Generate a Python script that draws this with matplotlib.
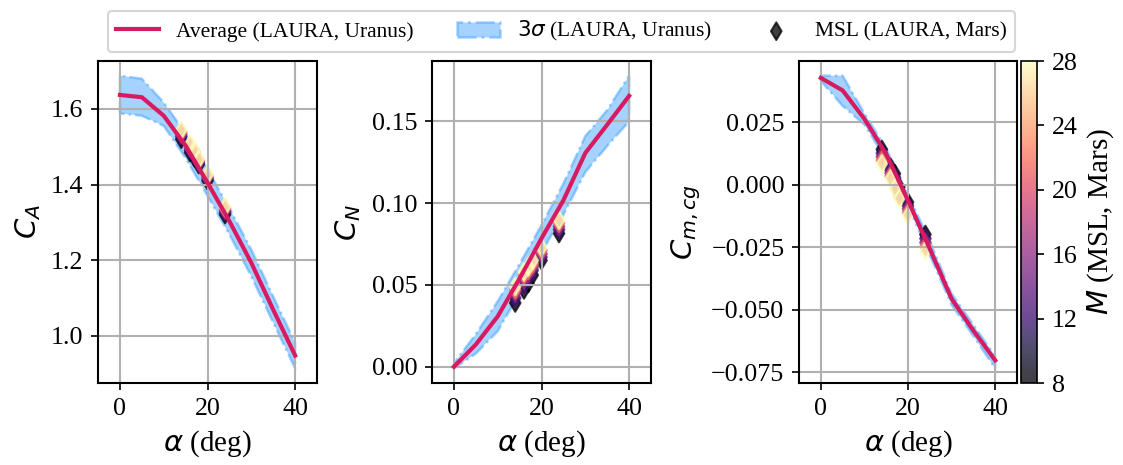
import numpy as np
import matplotlib
matplotlib.use('Agg')
import matplotlib.pyplot as plt

plt.rcParams['font.family'] = 'serif'
plt.rcParams['font.serif'] = ['Liberation Serif', 'DejaVu Serif']
plt.rcParams['mathtext.fontset'] = 'dejavusans'
plt.rcParams['font.size'] = 12.5

# LAURA Uranus database (average and 3 sigma band)
alpha = [0, 5, 10, 15, 20, 25, 30, 35, 40]

ca_avg = [1.637, 1.631, 1.582, 1.503, 1.405, 1.303, 1.193, 1.069, 0.948]
ca_hi = [1.688, 1.680, 1.617, 1.535, 1.440, 1.337, 1.228, 1.104, 0.982]
ca_lo = [1.588, 1.582, 1.555, 1.470, 1.370, 1.268, 1.157, 1.035, 0.914]

cn_avg = [0.000, 0.0136, 0.0308, 0.054, 0.0785, 0.1018, 0.1307, 0.148, 0.1656]
cn_hi = [0.002, 0.020, 0.040, 0.063, 0.0866, 0.112, 0.141, 0.157, 0.178]
cn_lo = [-0.001, 0.008, 0.0217, 0.045, 0.070, 0.093, 0.119, 0.135, 0.150]

cm_avg = [0.0427, 0.0377, 0.0263, 0.0123, -0.0063, -0.0256, -0.0456, -0.0583, -0.0702]
cm_hi = [0.0436, 0.0436, 0.0285, 0.0145, -0.0040, -0.0225, -0.0435, -0.0560, -0.0685]
cm_lo = [0.0415, 0.0315, 0.0240, 0.0100, -0.0085, -0.0282, -0.0480, -0.0605, -0.0734]

# MSL points (LAURA, Mars), one row per Mach number
msl_alpha = [14, 16, 17, 18, 20, 24]
msl_mach = [8, 12, 16, 22, 28]

msl_ca = [
    [1.520, 1.485, 1.471, 1.453, 1.410, 1.321],
    [1.527, 1.491, 1.477, 1.457, 1.415, 1.327],
    [1.533, 1.497, 1.482, 1.461, 1.419, 1.332],
    [1.539, 1.502, 1.487, 1.464, 1.423, 1.337],
    [1.544, 1.507, 1.491, 1.467, 1.426, 1.341],
]
msl_cn = [
    [0.039, 0.047, 0.051, 0.056, 0.065, 0.0815],
    [0.042, 0.050, 0.054, 0.059, 0.067, 0.0838],
    [0.045, 0.053, 0.057, 0.061, 0.069, 0.0858],
    [0.047, 0.056, 0.059, 0.063, 0.071, 0.0878],
    [0.049, 0.058, 0.061, 0.065, 0.073, 0.0896],
]
msl_cm = [
    [0.0141, 0.0070, 0.0044, -0.0010, -0.0070, -0.0199],
    [0.0126, 0.0058, 0.0029, -0.0022, -0.0084, -0.0215],
    [0.0112, 0.0046, 0.0014, -0.0034, -0.0097, -0.0231],
    [0.0098, 0.0035, 0.0000, -0.0045, -0.0110, -0.0247],
    [0.0084, 0.0024, -0.0016, -0.0056, -0.0123, -0.0263],
]

line_color = '#d81b60'
band_color = 'dodgerblue'

fig = plt.figure(figsize=(1123 / 150, 465 / 150), dpi=150)
ax1 = fig.add_axes([0.0873, 0.1763, 0.1950, 0.6925])
ax2 = fig.add_axes([0.3847, 0.1763, 0.1950, 0.6925])
ax3 = fig.add_axes([0.7115, 0.1763, 0.1941, 0.6925])
cax = fig.add_axes([0.9092, 0.1763, 0.0142, 0.6925])

panels = [
    (ax1, ca_avg, ca_lo, ca_hi, msl_ca, '$C_A$'),
    (ax2, cn_avg, cn_lo, cn_hi, msl_cn, '$C_N$'),
    (ax3, cm_avg, cm_lo, cm_hi, msl_cm, '$C_{m,cg}$'),
]

# flatten MSL points, low Mach first so high Mach ends up on top
pts_a = [a for m in msl_mach for a in msl_alpha]
pts_m = [m for m in msl_mach for a in msl_alpha]

for ax, avg, lo, hi, msl, lab in panels:
    ax.fill_between(alpha, lo, hi, color=band_color, alpha=0.4,
                    linestyle='-.', linewidth=1.2, label=r'$3\sigma$ (LAURA, Uranus)')
    ax.plot(alpha, avg, color=line_color, linewidth=2, label='Average (LAURA, Uranus)')
    sc = ax.scatter(pts_a, np.array(msl).ravel(), c=pts_m, cmap='magma',
                    vmin=8, vmax=28, marker='d', s=36, alpha=0.75,
                    label='MSL (LAURA, Mars)')
    ax.set_xlim(-5, 45)
    ax.set_xticks([0, 20, 40])
    ax.set_xlabel(r'$\alpha$ (deg)', fontsize=14)
    ax.set_ylabel(lab, fontsize=14)
    ax.grid(True, linewidth=1.0)
    for s in ax.spines.values():
        s.set_linewidth(1.0)

ax1.set_yticks([1.0, 1.2, 1.4, 1.6])
ax2.set_yticks([0.0, 0.05, 0.10, 0.15])
ax3.set_yticks([0.025, 0.0, -0.025, -0.05, -0.075])

cb = fig.colorbar(sc, cax=cax, ticks=[8, 12, 16, 20, 24, 28])
cb.set_label('$M$ (MSL, Mars)', fontsize=14)

handles, labels = ax1.get_legend_handles_labels()
order = [1, 0, 2]
fig.legend([handles[i] for i in order], [labels[i] for i in order],
           loc='upper center', bbox_to_anchor=(0.5, 1.0), ncol=3, fontsize=10.3)

fig.savefig('out.png', dpi=150)
